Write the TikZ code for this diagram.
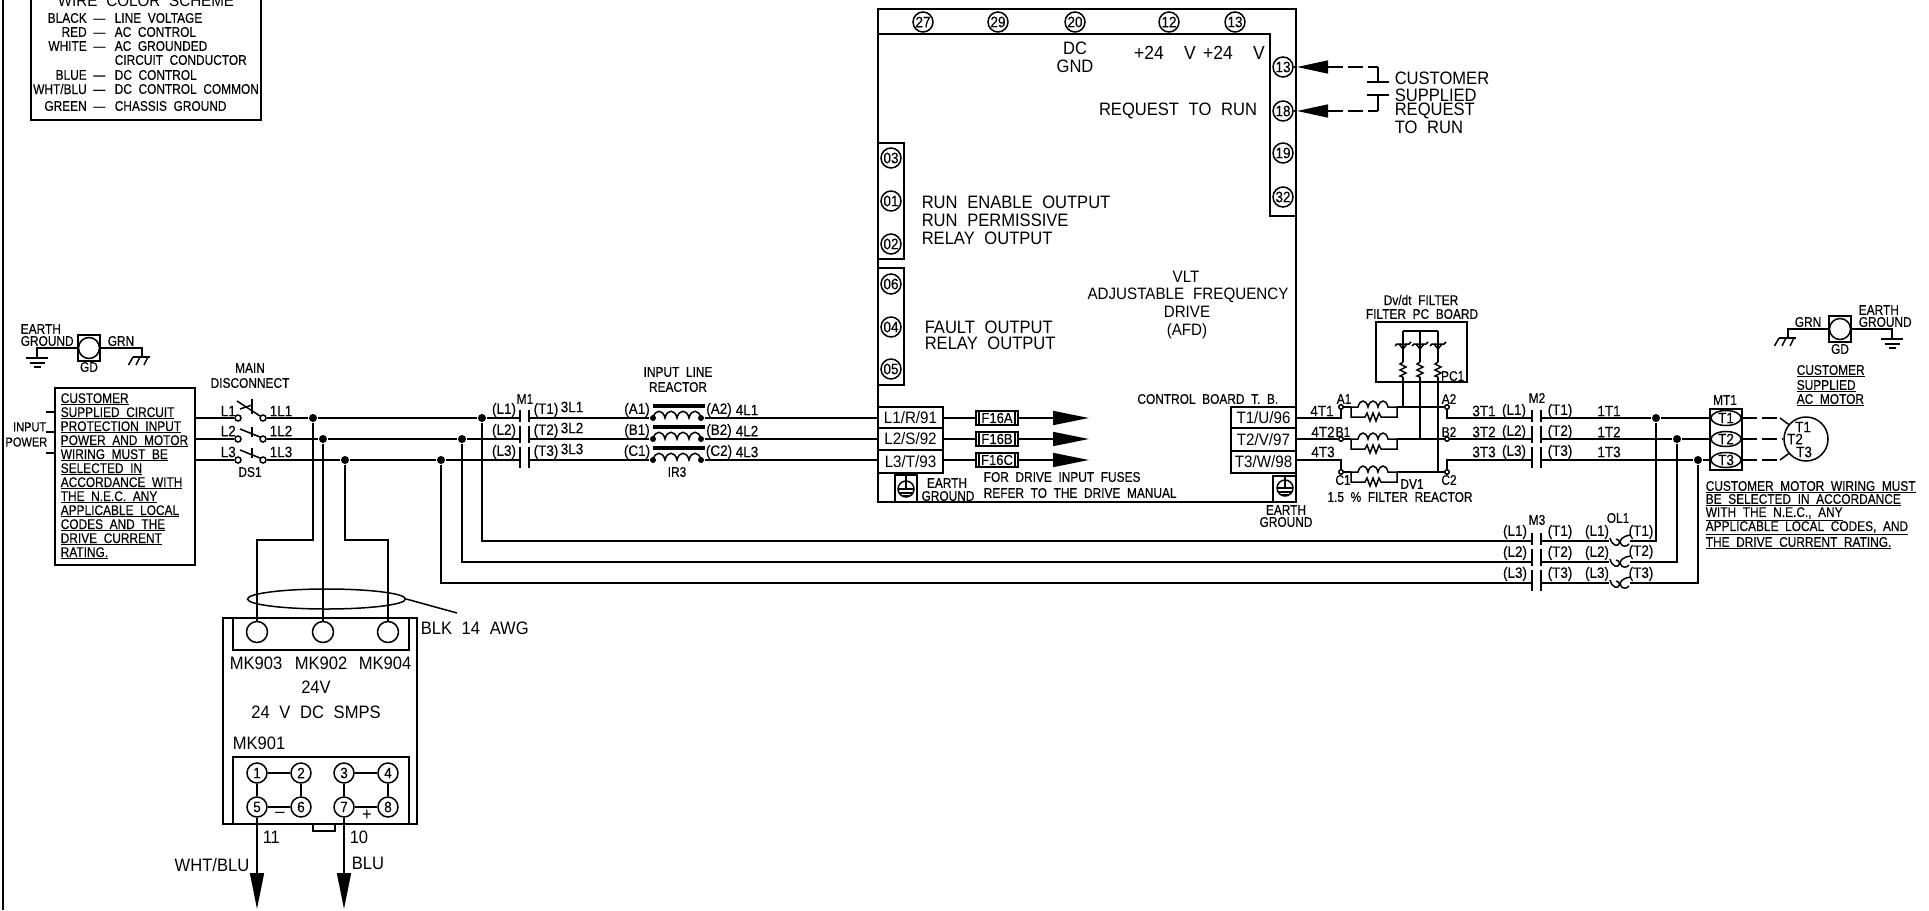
\documentclass[tikz,border=0pt]{standalone}
\usepackage{fontspec}
\setmainfont{Liberation Sans}[FakeStretch=0.85,WordSpace=2.0,FakeBold=0.35]
\newfontfamily\midfont{Liberation Sans}[FakeStretch=0.9,WordSpace=2.0,FakeBold=0.2]
\newfontfamily\bigfont{Liberation Sans}[FakeStretch=0.92,WordSpace=2.1]
\usetikzlibrary{arrows.meta,shapes.geometric}
\tikzset{
    tinylab/.style={font=\fontsize{13}{13}\selectfont,inner sep=0pt},
    lab/.style={font=\fontsize{14}{14}\selectfont,inner sep=0pt},
    midlab/.style={font=\midfont\fontsize{15}{15}\selectfont,inner sep=0pt},
    widelab/.style={font=\bigfont\fontsize{16.5}{16.5}\selectfont,inner sep=0pt},
    biglab/.style={font=\bigfont\fontsize{18}{18}\selectfont,inner sep=0pt},
    hugelab/.style={font=\bigfont\fontsize{19}{19}\selectfont,inner sep=0pt},
    box/.style={draw,rectangle,inner sep=0pt},
    tbox/.style={draw,rectangle,inner sep=0pt,minimum width=65pt,font=\bigfont\fontsize{16.5}{16.5}\selectfont},
    term/.style={draw,circle,inner sep=0pt,minimum size=20pt,font=\midfont\fontsize{15}{15}\selectfont},
    dot/.style={circle,fill,inner sep=0pt,minimum size=8pt},
    smalldot/.style={circle,fill,inner sep=0pt,minimum size=6pt},
    contact/.style={draw,circle,fill=white,inner sep=0pt,minimum size=6pt},
    tinycontact/.style={draw,circle,fill=white,inner sep=0pt,minimum size=4.5pt},
    oval/.style={draw,ellipse,inner sep=0pt,minimum width=30pt,minimum height=15pt,font=\midfont\fontsize{15}{15}\selectfont},
    fuse/.style={draw,rectangle,inner sep=0pt,minimum width=42pt,minimum height=14pt,font=\midfont\fontsize{14.5}{14.5}\selectfont,
        path picture={
            \draw ([xshift=3pt]path picture bounding box.north west) -- ([xshift=3pt]path picture bounding box.south west);
            \draw ([xshift=-3pt]path picture bounding box.north east) -- ([xshift=-3pt]path picture bounding box.south east);
        }},
    bigtip/.style={-{Triangle[length=36pt,width=14pt]}},
    reqtip/.style={{Triangle[length=31pt,width=13pt]}-,dash pattern=on 15pt off 5pt},
    motordash/.style={dash pattern=on 15pt off 5pt},
    contactor/.pic={
        \draw (0,-8) -- (0,4);
        \draw (0,8) -- (0,25);
        \draw (0,29) -- (0,50);
        \draw (9,-8) -- (9,4);
        \draw (9,8) -- (9,25);
        \draw (9,29) -- (9,50);
    },
    linecoil/.pic={
        \draw (0,-13) -- (52,-13);
        \draw (0,-11) -- (52,-11);
        \draw (0,0) .. controls (2,-9) and (10,-9) .. (12,0) .. controls (14,-9) and (22,-9) .. (24,0) .. controls (26,-9) and (34,-9) .. (36,0) .. controls (38,-9) and (46,-9) .. (48,0);
    },
    filtercoil/.pic={
        \draw (0,0) -- (7,0) .. controls (9,-8) and (15,-8) .. (17,0) .. controls (19,-8) and (25,-8) .. (27,0) .. controls (29,-8) and (35,-8) .. (37,0) -- (46,0);
        \draw (0,0) -- (0,10) -- (14,10) -- (16,6) -- (19,14) -- (22,6) -- (25,14) -- (28,6) -- (30,10) -- (46,10) -- (46,0);
    },
    varistor/.pic={
        \draw (-8,2) -- (-6,0) -- (6,0) -- (8,-2);
        \draw (-4,0) -- (0,5) -- (4,0);
    },
    zigzag/.pic={
        \draw (0,0) -- (-3,2) -- (3,5) -- (-3,8) -- (3,11) -- (-3,14) -- (0,15);
    },
    overload/.pic={
        \draw (1,-3) .. controls (3,5) and (9,6) .. (10.5,2) .. controls (11,0) and (9,-2) .. (7,-2);
        \draw (21,-6) .. controls (14,-5) and (10,-1) .. (11.5,2) .. controls (12.5,6) and (18,6) .. (20,3);
    },
    earthbars/.pic={
        \draw (-11,0) -- (11,0);
        \draw (-7.5,5) -- (7.5,5);
        \draw (-3.5,9) -- (3.5,9);
    },
    chassis/.pic={
        \draw (-9,0) -- (8,0);
        \draw (-9,0) -- (-13.5,8);
        \draw (-2,0) -- (-6,8);
        \draw (6,0) -- (2,8);
    },
    protsym/.pic={
        \draw (0,0) circle (8);
        \draw (0,-13) -- (0,0);
        \draw (-8,0) -- (8,0);
        \draw (-6,4) -- (6,4);
        \draw (-3,7) -- (3,7);
    },
    dsblade/.pic={
        \draw (2,-10) -- (22,-2);
        \draw (14,-12) -- (14,-2);
    },
}
\begin{document}
\begin{tikzpicture}[x=1pt,y=-1pt,line width=1.5pt]
        \useasboundingbox (0,0) rectangle (1929,910);
        \draw[-] (3,0) -- (3,910);

        \draw[-] (31,0) |- (261,120) -- (261,0);
        \node[widelab] at (146,1) (legtitle) {WIRE COLOR SCHEME};
        \node[lab,anchor=east] at (106,18) (legblack) {BLACK —};
        \node[lab,anchor=west] at (114,18) (legline) {LINE VOLTAGE};
        \node[lab,anchor=east] at (106,32) (legred) {RED —};
        \node[lab,anchor=west] at (114,32) (legac) {AC CONTROL};
        \node[lab,anchor=east] at (106,46) (legwhite) {WHITE —};
        \node[lab,anchor=west] at (114,46) (leggnd) {AC GROUNDED};
        \node[lab,anchor=west] at (114,60) (legcond) {CIRCUIT CONDUCTOR};
        \node[lab,anchor=east] at (106,75) (legblue) {BLUE —};
        \node[lab,anchor=west] at (114,75) (legdc) {DC CONTROL};
        \node[lab,anchor=east] at (106,89) (legwht) {WHT/BLU —};
        \node[lab,anchor=west] at (114,89) (legcom) {DC CONTROL COMMON};
        \node[lab,anchor=east] at (106,106) (leggreen) {GREEN —};
        \node[lab,anchor=west] at (114,106) (legchas) {CHASSIS GROUND};

        \coordinate (rowa) at (0,418);
        \coordinate (rowb) at (0,439);
        \coordinate (rowc) at (0,460);
        \coordinate (dropy) at (0,540);

        \node[lab,anchor=west] at (20,329) (earthl1) {EARTH};
        \node[lab,anchor=west] at (20,341) (earthl2) {GROUND};
        \node[box,minimum width=22pt,minimum height=26pt] at (89,348) (gdl) {};
        \node[draw,circle,minimum size=21pt,inner sep=0pt] at (89,348) (gdlc) {};
        \node[lab] at (89,367) (gdltxt) {GD};
        \node[lab,anchor=west] at (107,341) (grnl) {GRN};
        \coordinate (gndl) at (37,358);
        \coordinate (chal) at (142,357);
        \draw[-] (gdl.west) -| (gndl);
        \draw[-] (gdl.east) -| (chal);
        \pic at (gndl) {earthbars};
        \pic at (chal) {chassis};

        \node[box,minimum width=140pt,minimum height=177pt] at (125,476.5) (custbox) {};
        \node[lab,anchor=north west,align=left] at (60,392.5) (custtext) {\underline{CUSTOMER}\\\underline{SUPPLIED CIRCUIT}\\\underline{PROTECTION INPUT}\\\underline{POWER AND MOTOR}\\\underline{WIRING MUST BE}\\\underline{SELECTED IN}\\\underline{ACCORDANCE WITH}\\\underline{THE N.E.C. ANY}\\\underline{APPLICABLE LOCAL}\\\underline{CODES AND THE}\\\underline{DRIVE CURRENT}\\\underline{RATING.}};
        \node[tinylab,anchor=east] at (47,427) (inputtxt) {INPUT};
        \node[tinylab,anchor=east] at (48,442) (powertxt) {POWER};
        \coordinate (tickb) at (46,412);
        \coordinate (ticka) at (46,432);
        \coordinate (tickc) at (46,453);
        \draw[-] (tickb) -- (custbox.west|-tickb);
        \draw[-] (ticka) -- (custbox.west|-ticka);
        \draw[-] (tickc) -- (custbox.west|-tickc);

        \node[lab] at (250,368) (maintxt) {MAIN};
        \node[lab] at (250,383) (disctxt) {DISCONNECT};
        \node[lab] at (250,472) (ds1txt) {DS1};
        \node[contact] at (238,418) (dsla) {};
        \node[contact] at (263,418) (dsra) {};
        \node[contact] at (238,439) (dslb) {};
        \node[contact] at (263,439) (dsrb) {};
        \node[contact] at (238,460) (dslc) {};
        \node[contact] at (263,460) (dsrc) {};
        \draw[-] (237,401) -- (260,416);
        \draw[-] (252,399) -- (252,414);
        \draw[-] (240,409) -- (252,405);
        \pic at (dslb) {dsblade};
        \pic at (dslc) {dsblade};
        \node[midlab,anchor=west] at (220,411) (l1txt) {L1};
        \node[midlab,anchor=west] at (220,431) (l2txt) {L2};
        \node[midlab,anchor=west] at (220,452) (l3txt) {L3};
        \node[midlab,anchor=west] at (269,411) (ll1txt) {1L1};
        \node[midlab,anchor=west] at (269,431) (ll2txt) {1L2};
        \node[midlab,anchor=west] at (269,452) (ll3txt) {1L3};

        \node[dot] at (313,418) (ja1) {};
        \node[dot] at (323,439) (jb1) {};
        \node[dot] at (345,460) (jc1) {};
        \node[dot] at (482,418) (ja2) {};
        \node[dot] at (462,439) (jb2) {};
        \node[dot] at (441,460) (jc2) {};

        \coordinate (m1la) at (520,418);
        \coordinate (m1lb) at (520,439);
        \coordinate (m1lc) at (520,460);
        \coordinate (m1ra) at (529,418);
        \coordinate (m1rb) at (529,439);
        \coordinate (m1rc) at (529,460);
        \pic at (m1la) {contactor};
        \node[lab] at (525,399) (m1txt) {M1};
        \node[midlab] at (504,410) (m1l1) {(L1)};
        \node[midlab] at (504,431) (m1l2) {(L2)};
        \node[midlab] at (504,452) (m1l3) {(L3)};
        \node[midlab] at (546,410) (m1t1) {(T1)};
        \node[midlab] at (546,431) (m1t2) {(T2)};
        \node[midlab] at (546,452) (m1t3) {(T3)};
        \node[midlab,anchor=west] at (560,407) (l31) {3L1};
        \node[midlab,anchor=west] at (560,428) (l32) {3L2};
        \node[midlab,anchor=west] at (560,449) (l33) {3L3};

        \node[lab] at (678,372) (reactxt1) {INPUT LINE};
        \node[lab] at (678,387) (reactxt2) {REACTOR};
        \node[lab] at (677,472) (ir3txt) {IR3};
        \node[smalldot] at (653,418) (rxa1) {};
        \node[smalldot] at (701,418) (rxa2) {};
        \node[smalldot] at (653,439) (rxb1) {};
        \node[smalldot] at (701,439) (rxb2) {};
        \node[smalldot] at (653,460) (rxc1) {};
        \node[smalldot] at (701,460) (rxc2) {};
        \pic at (rxa1) {linecoil};
        \pic at (rxb1) {linecoil};
        \pic at (rxc1) {linecoil};
        \node[midlab] at (637,410) (rxta1) {(A1)};
        \node[midlab] at (637,431) (rxtb1) {(B1)};
        \node[midlab] at (637,452) (rxtc1) {(C1)};
        \node[midlab] at (719,410) (rxta2) {(A2)};
        \node[midlab] at (719,431) (rxtb2) {(B2)};
        \node[midlab] at (719,452) (rxtc2) {(C2)};
        \node[midlab,anchor=west] at (735,410) (l41) {4L1};
        \node[midlab,anchor=west] at (735,431) (l42) {4L2};
        \node[midlab,anchor=west] at (735,452) (l43) {4L3};

        \node[box,minimum width=418pt,minimum height=493pt] at (1087,255.5) (drive) {};
        \draw[-] (878,34) -- (1270,34) -- (1270,216) -- (1296,216);
        \draw[-] (878,143) rectangle (904,259);
        \draw[-] (878,268) rectangle (904,385);
        \node[term] at (923,22) (t27) {27};
        \node[term] at (998,22) (t29) {29};
        \node[term] at (1075,22) (t20) {20};
        \node[term] at (1169,22) (t12) {12};
        \node[term] at (1235,22) (t13top) {13};
        \node[term] at (1283,67) (t13) {13};
        \node[term] at (1283,111) (t18) {18};
        \node[term] at (1283,153) (t19) {19};
        \node[term] at (1283,197) (t32) {32};
        \node[term] at (891,158) (t03) {03};
        \node[term] at (891,201) (t01) {01};
        \node[term] at (891,244) (t02) {02};
        \node[term] at (891,284) (t06) {06};
        \node[term] at (891,327) (t04) {04};
        \node[term] at (891,369) (t05) {05};
        \node[biglab] at (1075,48) (dctxt) {DC};
        \node[biglab] at (1075,66) (gndtxt) {GND};
        \node[hugelab] at (1165,53) (p24a) {+24~~V};
        \node[hugelab] at (1234,53) (p24b) {+24~~V};
        \node[biglab] at (1178,111) (reqtxt) {REQUEST TO RUN};
        \node[biglab,anchor=west] at (921,202) (runa) {RUN ENABLE OUTPUT};
        \node[biglab,anchor=west] at (921,220) (runb) {RUN PERMISSIVE};
        \node[biglab,anchor=west] at (921,238) (runc) {RELAY OUTPUT};
        \node[biglab,anchor=west] at (924,327) (faulta) {FAULT OUTPUT};
        \node[biglab,anchor=west] at (924,343) (faultb) {RELAY OUTPUT};
        \node[widelab] at (1186,277) (vlttxt) {VLT};
        \node[widelab] at (1188,295) (adjtxt) {ADJUSTABLE FREQUENCY};
        \node[widelab] at (1187,312) (drvtxt) {DRIVE};
        \node[widelab] at (1187,331) (afdtxt) {(AFD)};
        \node[lab,anchor=east] at (1279,399) (cbtxt) {CONTROL BOARD T. B.};

        \node[tbox,minimum height=21pt] at (910.5,417.5) (vlta) {L1/R/91};
        \node[tbox,minimum height=22pt] at (910.5,439) (vltb) {L2/S/92};
        \node[tbox,minimum height=23pt] at (910.5,461.5) (vltc) {L3/T/93};
        \node[tbox,minimum height=21pt] at (1263.5,417.5) (t1u) {T1/U/96};
        \node[tbox,minimum height=23pt] at (1263.5,439.5) (t2v) {T2/V/97};
        \node[tbox,minimum height=22pt] at (1263.5,462) (t3w) {T3/W/98};

        \node[fuse] at (997,418) (fusea) {F16A};
        \node[fuse] at (997,439) (fuseb) {F16B};
        \node[fuse] at (997,460) (fusec) {F16C};
        \coordinate (tipa) at (1089,418);
        \coordinate (tipb) at (1089,439);
        \coordinate (tipc) at (1089,460);

        \draw[-] (895,475) rectangle (917,502);
        \pic at (906,489) {protsym};
        \draw[-] (1273,476) rectangle (1296,502);
        \pic at (1285,488) {protsym};
        \node[lab] at (947,483) (earthda) {EARTH};
        \node[lab] at (948,496) (earthdb) {GROUND};
        \node[lab,anchor=west] at (983,477) (fusenotea) {FOR DRIVE INPUT FUSES};
        \node[lab,anchor=west] at (983,493) (fusenoteb) {REFER TO THE DRIVE MANUAL};
        \node[lab] at (1286,510) (earthra) {EARTH};
        \node[lab] at (1286,522) (earthrb) {GROUND};

        \draw[-] (custbox.east|-rowa) -- (dsla);
        \draw[-] (custbox.east|-rowb) -- (dslb);
        \draw[-] (custbox.east|-rowc) -- (dslc);
        \draw[-] (dsra) -- (ja1) -- (ja2) -- (m1la);
        \draw[-] (dsrb) -- (jb1) -- (jb2) -- (m1lb);
        \draw[-] (dsrc) -- (jc1) -- (jc2) -- (m1lc);
        \draw[-] (m1ra) -- (rxa1);
        \draw[-] (m1rb) -- (rxb1);
        \draw[-] (m1rc) -- (rxc1);
        \draw[-] (rxa2) -- (vlta.west|-rowa);
        \draw[-] (rxb2) -- (vltb.west|-rowb);
        \draw[-] (rxc2) -- (vltc.west|-rowc);
        \draw[-] (vlta.east|-rowa) -- (fusea);
        \draw[-] (vltb.east|-rowb) -- (fuseb);
        \draw[-] (vltc.east|-rowc) -- (fusec);
        \draw[bigtip] (fusea) -- (tipa);
        \draw[bigtip] (fuseb) -- (tipb);
        \draw[bigtip] (fusec) -- (tipc);

        \coordinate (req13) at (1297,67);
        \coordinate (req18) at (1297,111);
        \coordinate (reqa) at (1378,67);
        \coordinate (reqb) at (1378,82);
        \coordinate (reqc) at (1378,95);
        \coordinate (reqd) at (1378,111);
        \coordinate (barl1) at (1367,82);
        \coordinate (barr1) at (1389,82);
        \coordinate (barl2) at (1367,95);
        \coordinate (barr2) at (1389,95);
        \draw[-] (t13) -- (req13);
        \draw[-] (t18) -- (req18);
        \draw[reqtip] (req13) -- (reqa);
        \draw[reqtip] (req18) -- (reqd);
        \draw[-] (reqa) -- (reqb);
        \draw[-] (reqc) -- (reqd);
        \draw[-] (barl1) -- (barr1);
        \draw[-] (barl2) -- (barr2);
        \node[biglab,anchor=west] at (1394,78) (reqtxta) {CUSTOMER};
        \node[biglab,anchor=west] at (1394,95) (reqtxtb) {SUPPLIED};
        \node[biglab,anchor=west] at (1394,111) (reqtxtc) {REQUEST};
        \node[biglab,anchor=west] at (1394,127) (reqtxtd) {TO RUN};

        \node[midlab] at (1322,411) (t41) {4T1};
        \node[midlab] at (1323,432) (t42) {4T2};
        \node[midlab] at (1323,452) (t43) {4T3};
        \node[lab] at (1344,399) (a1txt) {A1};
        \node[lab] at (1343,432) (b1txt) {B1};
        \node[lab] at (1343,480) (c1txt) {C1};
        \node[lab] at (1449,399) (a2txt) {A2};
        \node[lab] at (1449,432) (b2txt) {B2};
        \node[lab] at (1449,480) (c2txt) {C2};
        \node[tinycontact] at (1341,407) (a1c) {};
        \node[tinycontact] at (1341,439) (b1c) {};
        \node[tinycontact] at (1341,472) (c1c) {};
        \node[tinycontact] at (1447,407) (a2c) {};
        \node[tinycontact] at (1447,439) (b2c) {};
        \node[tinycontact] at (1447,472) (c2c) {};
        \coordinate (dva1) at (1351,407);
        \coordinate (dva2) at (1397,407);
        \coordinate (dvb1) at (1351,439);
        \coordinate (dvb2) at (1397,439);
        \coordinate (dvc1) at (1351,472);
        \coordinate (dvc2) at (1397,472);
        \pic at (dva1) {filtercoil};
        \pic at (dvb1) {filtercoil};
        \pic at (dvc1) {filtercoil};
        \draw[-] (t1u.east|-rowa) -| (a1c);
        \draw[-] (t2v.east|-rowb) -- (b1c);
        \draw[-] (t3w.east|-rowc) -| (c1c);
        \draw[-] (a1c) -- (dva1);
        \draw[-] (b1c) -- (dvb1);
        \draw[-] (c1c) -- (dvc1);
        \draw[-] (dva2) -- (a2c);
        \draw[-] (dvb2) -- (b2c);
        \draw[-] (dvc2) -- (c2c);
        \node[lab] at (1412,484) (dv1txt) {DV1};
        \node[lab] at (1400,497) (filtxt) {1.5 \% FILTER REACTOR};

        \node[box,minimum width=91pt,minimum height=60pt] at (1421.5,352) (pcbox) {};
        \node[lab] at (1421,300) (dvdttxt) {Dv/dt FILTER};
        \node[lab] at (1422,314) (pctxt) {FILTER PC BOARD};
        \node[lab,anchor=east] at (1465,376) (pc1txt) {PC1};
        \coordinate (pca) at (1403,331);
        \coordinate (pcb) at (1420,331);
        \coordinate (pcc) at (1438,331);
        \coordinate (pza1) at (1403,362);
        \coordinate (pzb1) at (1420,362);
        \coordinate (pzc1) at (1438,362);
        \coordinate (pza2) at (1403,377);
        \coordinate (pzb2) at (1420,377);
        \coordinate (pzc2) at (1438,377);
        \coordinate (pwa) at (1403,407);
        \coordinate (pwb) at (1420,439);
        \coordinate (pwc) at (1438,472);
        \draw[-] (pca) -- (pcc);
        \draw[-] (pca) -- (pza1);
        \draw[-] (pcb) -- (pzb1);
        \draw[-] (pcc) -- (pzc1);
        \draw[-] (pza2) -- (pwa);
        \draw[-] (pzb2) -- (pwb);
        \draw[-] (pzc2) -- (pwc);
        \pic at (1403,344) {varistor};
        \pic at (1420,344) {varistor};
        \pic at (1438,344) {varistor};
        \pic at (pza1) {zigzag};
        \pic at (pzb1) {zigzag};
        \pic at (pzc1) {zigzag};

        \coordinate (m2la) at (1532,418);
        \coordinate (m2lb) at (1532,439);
        \coordinate (m2lc) at (1532,460);
        \coordinate (m2ra) at (1541,418);
        \coordinate (m2rb) at (1541,439);
        \coordinate (m2rc) at (1541,460);
        \pic at (m2la) {contactor};
        \node[lab] at (1537,398) (m2txt) {M2};
        \node[midlab] at (1484,411) (t31) {3T1};
        \node[midlab] at (1484,432) (t32) {3T2};
        \node[midlab] at (1484,452) (t33) {3T3};
        \node[midlab] at (1514,411) (m2l1) {(L1)};
        \node[midlab] at (1514,432) (m2l2) {(L2)};
        \node[midlab] at (1514,452) (m2l3) {(L3)};
        \node[midlab] at (1560,411) (m2t1) {(T1)};
        \node[midlab] at (1560,432) (m2t2) {(T2)};
        \node[midlab] at (1560,452) (m2t3) {(T3)};
        \node[midlab] at (1609,411) (t11) {1T1};
        \node[midlab] at (1609,432) (t12b) {1T2};
        \node[midlab] at (1609,452) (t13b) {1T3};
        \draw[-] (a2c) |- (m2la);
        \draw[-] (b2c) -- (m2lb);
        \draw[-] (c2c) |- (m2lc);

        \node[dot] at (1656,418) (jm1) {};
        \node[dot] at (1677,439) (jm2) {};
        \node[dot] at (1698,460) (jm3) {};
        \node[box,minimum width=32pt,minimum height=61pt] at (1726,439.5) (mt1) {};
        \node[oval] at (1726,418) (mt1a) {T1};
        \node[oval] at (1726,439) (mt1b) {T2};
        \node[oval] at (1726,460) (mt1c) {T3};
        \node[lab] at (1725,400) (mt1txt) {MT1};
        \draw[-] (m2ra) -- (jm1) -- (mt1a);
        \draw[-] (m2rb) -- (jm2) -- (mt1b);
        \draw[-] (m2rc) -- (jm3) -- (mt1c);

        \node[draw,circle,minimum size=44pt,inner sep=0pt] at (1806,439) (motor) {};
        \node[midlab] at (1803,427) (mot1) {T1};
        \node[midlab] at (1795,439) (mot2) {T2};
        \node[midlab] at (1804,452) (mot3) {T3};
        \coordinate (mda) at (1780,418);
        \coordinate (mdc) at (1780,460);
        \draw[motordash] (mt1a) -- (mda);
        \draw[motordash] (mt1b) -- (motor);
        \draw[motordash] (mt1c) -- (mdc);
        \draw[-] (mda) -- (motor.140);
        \draw[-] (mdc) -- (motor.220);

        \node[box,minimum width=22pt,minimum height=26pt] at (1840,329) (gdr) {};
        \node[draw,circle,minimum size=21pt,inner sep=0pt] at (1840,329) (gdrc) {};
        \node[lab] at (1840,349) (gdrtxt) {GD};
        \node[lab] at (1808,322) (grnr) {GRN};
        \node[lab,anchor=west] at (1858,310) (earthr1) {EARTH};
        \node[lab,anchor=west] at (1858,322) (earthr2) {GROUND};
        \coordinate (char) at (1788,338);
        \coordinate (gndr) at (1892,339);
        \draw[-] (gdr.west) -| (char);
        \draw[-] (gdr.east) -| (gndr);
        \pic at (char) {chassis};
        \pic at (gndr) {earthbars};
        \node[lab,anchor=west] at (1796,371) (mottxta) {\underline{CUSTOMER}};
        \node[lab,anchor=west] at (1796,386) (mottxtb) {\underline{SUPPLIED}};
        \node[lab,anchor=west] at (1796,400) (mottxtc) {\underline{AC MOTOR}};
        \node[lab,anchor=west] at (1705,487) (wirea) {\underline{CUSTOMER MOTOR WIRING MUST}};
        \node[lab,anchor=west] at (1705,500) (wireb) {\underline{BE SELECTED IN ACCORDANCE}};
        \node[lab,anchor=west] at (1705,514) (wirec) {\underline{WITH THE N.E.C., ANY}};
        \node[lab,anchor=west] at (1705,528) (wired) {\underline{APPLICABLE LOCAL CODES, AND}};
        \node[lab,anchor=west] at (1705,543) (wiree) {\underline{THE DRIVE CURRENT RATING.}};

        \coordinate (m3la) at (1532,541);
        \coordinate (m3lb) at (1532,562);
        \coordinate (m3lc) at (1532,583);
        \coordinate (m3ra) at (1541,541);
        \coordinate (m3rb) at (1541,562);
        \coordinate (m3rc) at (1541,583);
        \coordinate (ola) at (1609,541);
        \coordinate (olb) at (1609,562);
        \coordinate (olc) at (1609,583);
        \coordinate (olra) at (1630,541);
        \coordinate (olrb) at (1630,562);
        \coordinate (olrc) at (1630,583);
        \pic at (m3la) {contactor};
        \pic at (ola) {overload};
        \pic at (olb) {overload};
        \pic at (olc) {overload};
        \node[lab] at (1537,520) (m3txt) {M3};
        \node[lab] at (1618,518) (ol1txt) {OL1};
        \node[midlab] at (1515,532) (m3l1) {(L1)};
        \node[midlab] at (1515,553) (m3l2) {(L2)};
        \node[midlab] at (1515,574) (m3l3) {(L3)};
        \node[midlab] at (1560,532) (m3t1) {(T1)};
        \node[midlab] at (1560,553) (m3t2) {(T2)};
        \node[midlab] at (1560,574) (m3t3) {(T3)};
        \node[midlab] at (1597,532) (oll1) {(L1)};
        \node[midlab] at (1597,553) (oll2) {(L2)};
        \node[midlab] at (1597,574) (oll3) {(L3)};
        \node[midlab] at (1641,532) (olt1) {(T1)};
        \node[midlab] at (1641,552) (olt2) {(T2)};
        \node[midlab] at (1641,574) (olt3) {(T3)};
        \draw[-] (ja2) |- (m3la);
        \draw[-] (jb2) |- (m3lb);
        \draw[-] (jc2) |- (m3lc);
        \draw[-] (m3ra) -- (ola);
        \draw[-] (m3rb) -- (olb);
        \draw[-] (m3rc) -- (olc);
        \draw[-] (olra) -| (jm1);
        \draw[-] (olrb) -| (jm2);
        \draw[-] (olrc) -| (jm3);

        \node[box,minimum width=194pt,minimum height=206pt] at (320,721) (smps) {};
        \draw[-] (233,618) rectangle (409,650);
        \draw[-] (233,757) rectangle (409,824);
        \draw[-] (313,824) -- (313,831) -- (335,831) -- (335,824);
        \node[term,minimum size=21pt] at (257,632) (mk903) {};
        \node[term,minimum size=21pt] at (323,632) (mk902) {};
        \node[term,minimum size=21pt] at (388,632) (mk904) {};
        \node[draw,ellipse,minimum width=158pt,minimum height=20pt,inner sep=0pt] at (326.5,599) (cable) {};
        \coordinate (leadend) at (457,613);
        \draw[-] (cable.east) -- (leadend);
        \node[biglab,anchor=west] at (420,628) (blktxt) {BLK 14 AWG};
        \draw[-] (ja1) -- (ja1|-dropy) -| (mk903);
        \draw[-] (jb1) -- (mk902);
        \draw[-] (jc1) -- (jc1|-dropy) -| (mk904);
        \node[biglab] at (256,663) (mk903txt) {MK903};
        \node[biglab] at (321,663) (mk902txt) {MK902};
        \node[biglab] at (385,663) (mk904txt) {MK904};
        \node[biglab] at (316,687) (v24txt) {24V};
        \node[biglab] at (316,712) (smpstxt) {24 V DC SMPS};
        \node[biglab,anchor=west] at (232,743) (mk901txt) {MK901};
        \node[term] at (257,773) (mk1) {1};
        \node[term] at (301,773) (mk2) {2};
        \node[term] at (344,773) (mk3) {3};
        \node[term] at (388,773) (mk4) {4};
        \node[term] at (257,807) (mk5) {5};
        \node[term] at (301,807) (mk6) {6};
        \node[term] at (344,807) (mk7) {7};
        \node[term] at (388,807) (mk8) {8};
        \draw[-] (mk1) -- (mk2);
        \draw[-] (mk3) -- (mk4);
        \draw[-] (mk5) -- (mk6);
        \draw[-] (mk7) -- (mk8);
        \draw[-] (mk1) -- (mk5);
        \draw[-] (mk2) -- (mk6);
        \draw[-] (mk3) -- (mk7);
        \draw[-] (mk4) -- (mk8);
        \node[biglab] at (280,815) (minustxt) {–};
        \node[biglab] at (367,815) (plustxt) {+};
        \coordinate (whtend) at (257,909);
        \coordinate (bluend) at (344,909);
        \draw[bigtip] (mk5) -- (whtend);
        \draw[bigtip] (mk7) -- (bluend);
        \node[biglab,anchor=west] at (262,837) (n11) {11};
        \node[biglab,anchor=west] at (349,837) (n10) {10};
        \node[biglab,anchor=east] at (250,865) (whttxt) {WHT/BLU};
        \node[biglab,anchor=west] at (351,863) (blutxt) {BLU};

    \end{tikzpicture}
\end{document}
